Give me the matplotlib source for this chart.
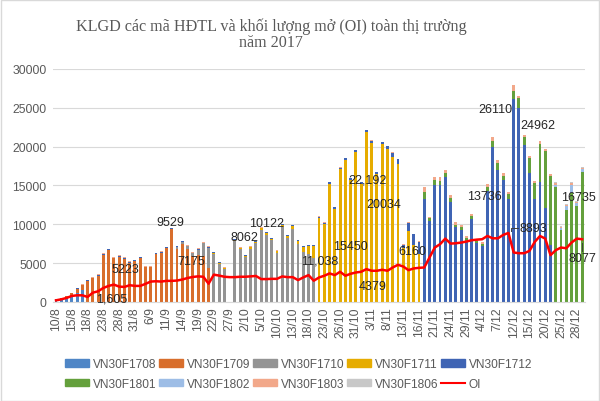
import matplotlib
matplotlib.use('Agg')
import matplotlib.pyplot as plt
import numpy as np
from matplotlib.patches import Rectangle, Patch
from matplotlib.lines import Line2D

# Ngày giao dịch (10/8 - 29/12/2017)
dates = ("10/8 11/8 14/8 15/8 16/8 17/8 18/8 21/8 22/8 23/8 24/8 25/8 28/8 29/8 30/8 31/8 "
         "1/9 5/9 6/9 7/9 8/9 11/9 12/9 13/9 14/9 15/9 18/9 19/9 20/9 21/9 22/9 25/9 26/9 27/9 28/9 29/9 "
         "2/10 3/10 4/10 5/10 6/10 9/10 10/10 11/10 12/10 13/10 16/10 17/10 18/10 19/10 20/10 "
         "23/10 24/10 25/10 26/10 27/10 30/10 31/10 "
         "1/11 2/11 3/11 6/11 7/11 8/11 9/11 10/11 13/11 14/11 15/11 16/11 17/11 20/11 21/11 "
         "22/11 23/11 24/11 27/11 28/11 29/11 30/11 "
         "1/12 4/12 5/12 6/12 7/12 8/12 11/12 12/12 13/12 14/12 15/12 18/12 19/12 20/12 21/12 "
         "22/12 25/12 26/12 27/12 28/12 29/12").split()

f1708 = [330, 370, 540, 860, 1150, 1605] + [0] * 95

f1709 = ([90, 120, 200, 290, 580, 580,
          2740, 3050, 3360, 6100, 6670, 5600, 5850, 5580, 5050, 5300,
          5620, 4460, 4460, 6170, 6330, 6900, 9440, 6850, 7480, 6850,
          5900, 6100, 5900, 4400] + [0] * 71)

f1710 = ([0] * 23 +
         [200, 250, 300, 370, 650, 1650, 2600] +
         [6150, 4950, 4220, 0, 7800, 6780, 5850, 6880, 7550, 9250,
          8650, 7950, 6300, 9650, 8250, 9450, 7450, 6500, 6200, 5650] + [0] * 51)

f1711 = ([0] * 30 +
         [150, 120, 100, 0, 150, 150, 130, 150, 200, 220,
          220, 220, 230, 280, 280, 380, 430, 600, 1050, 1600] +
         [10850, 10080, 15250, 12000, 17080, 18270, 15730, 19330, 15230, 21900,
          20500, 16500, 20300, 19650, 18700, 17800, 6900, 9100, 7350, 6160] + [0] * 31)

f1712 = ([10, 10, 20, 30, 50, 60,
          60, 80, 150, 130, 130, 120, 130, 120, 110, 110, 120, 90, 90, 120,
          130, 140, 100, 100, 100, 100, 100, 100, 100, 100,
          100, 90, 80, 0, 100, 80, 80, 80, 90, 90,
          90, 90, 80, 80, 80, 80, 80, 70, 70, 70,
          150, 150, 180, 180, 200, 210, 200, 220, 200, 220,
          230, 230, 280, 400, 500, 580, 500, 1100, 1350, 1600,
          13200, 10400, 15000, 15000, 16100, 12900, 9600, 9250, 7900, 10700,
          7550, 7250, 14300, 19900, 17050, 15700, 13300, 26110, 24962, 20200,
          16600, 13200, 15500, 12100, 7400] + [0] * 6)

f1801 = ([0] * 70 +
         [900, 350, 650, 600, 550, 550, 350, 350, 350, 350,
          250, 250, 450, 850, 800, 550, 550, 1050, 1300, 1050,
          1900, 2150, 4850, 7300, 8800,
          14800, 9250, 11800, 14000, 12300, 16735])

f1802 = [0] * 95 + [250, 300, 500, 1000, 450, 400]

f1803 = ([0, 0, 0, 0, 0, 35,
          30, 50, 60, 70, 70, 60, 60, 60, 60, 60, 60, 50, 50, 60,
          60, 60, 40, 50, 50, 50, 50, 50, 50, 50,
          50, 50, 50, 0, 50, 40, 40, 40, 40, 40,
          40, 40, 40, 40, 40, 40, 40, 30, 30, 30,
          70, 70, 70, 70, 70, 70, 70, 70, 70, 70,
          70, 70, 70, 80, 70, 70, 100, 100, 100, 90,
          700, 200, 500, 450, 400, 290, 300, 250, 200, 250,
          200, 200, 380, 450, 450, 350, 300, 740, 240, 290,
          300, 250, 350, 300, 250,
          250, 150, 200, 300, 150, 170])

f1806 = [0] * 95 + [100, 100, 100, 100, 100, 95]

oi = [215, 345, 520, 780, 860, 860, 650, 1200, 1380, 1810,
      2070, 2240, 1980, 1940, 2160, 2070, 2070, 2330, 2630, 2670,
      2630, 2720, 2720, 2760, 2890, 3090, 3220, 3300, 3250, 2350,
      3520, 3400, 3250, 3200, 3200, 3250, 3250, 3300, 3350, 2950,
      2950, 2980, 2980, 3290, 3200, 3200, 2820, 3160, 3460, 2740,
      3160, 3380, 3680, 3460, 3890, 3380, 3630, 3800, 3890, 4230,
      4020, 4020, 4150, 4020, 4440, 4790, 4570, 4100, 4320, 4400,
      4440, 5730, 7010, 7440, 8160, 7520, 7560, 7650, 7780, 7950,
      8030, 8080, 8500, 8200, 8200, 8630, 8893, 6370, 6280, 6280,
      6580, 7730, 8500, 8160, 6030, 6670, 7010, 6920, 7650, 8160, 8077]

series = ['VN30F1708', 'VN30F1709', 'VN30F1710', 'VN30F1711', 'VN30F1712',
          'VN30F1801', 'VN30F1802', 'VN30F1803', 'VN30F1806']
values = [f1708, f1709, f1710, f1711, f1712, f1801, f1802, f1803, f1806]
colors = ['#4F86C6', '#D86E2C', '#949494', '#E6AC00', '#3F64B4',
          '#64A03C', '#9DBDE6', '#F2A88A', '#C8C8C8']

# Nhãn số liệu (đặt tay như trong Excel)
labels = [('9529', 21.7, 10320), ('5223', 13.1, 4230), ('1,605', 10.6, 450),
          ('7175', 25.7, 5300), ('8062', 35.8, 8330), ('10122', 40.1, 10190),
          ('11,038', 50.1, 5300), ('15450', 56.0, 7220), ('22,192', 59.3, 15770),
          ('20034', 62.3, 12560), ('4379', 60.1, 2090), ('6160', 67.8, 6540),
          ('13736', 81.4, 13630), ('26110', 83.6, 24870), ('24962', 91.5, 22820),
          ('8893', 90.7, 9490), ('16735', 99.4, 13460), ('8077', 100.1, 5640)]

fig = plt.figure(figsize=(6, 4.02), dpi=100)
ax = fig.add_axes([0.089, 0.2463, 0.8855, 0.5796])

x = np.arange(len(dates))
bottom = np.zeros(len(dates))
for name, vals, c in zip(series, values, colors):
    ax.bar(x, vals, width=0.55, bottom=bottom, color=c, zorder=2)
    bottom += np.array(vals)

ax.plot(x, oi, color='#FF0000', lw=1.8, zorder=3)

for s, lx, ly in labels:
    ax.text(lx, ly, s, ha='center', va='center', fontsize=9,
            color='#262626', family='Liberation Sans', zorder=4)

# đường dẫn nhãn
ax.plot([86.4, 86.4, 87.8], [9100, 9550, 9550], color='#404040', lw=0.7, zorder=4)
ax.plot([100, 100], [7650, 6550], color='#404040', lw=0.7, zorder=4)

ax.set_xlim(-0.5, len(dates) - 0.5)
ax.set_ylim(0, 30000)
ax.set_yticks(range(0, 30001, 5000))
ax.set_xticks(x[::3])
ax.set_xticklabels(dates[::3], rotation=90)
ax.tick_params(axis='both', length=0, labelsize=8.8, labelcolor='#595959')
ax.tick_params(axis='y', pad=5)
ax.tick_params(axis='x', pad=3)
for lab in ax.get_xticklabels() + ax.get_yticklabels():
    lab.set_family('Liberation Sans')
ax.grid(axis='y', color='#d9d9d9', lw=0.8, zorder=0)
ax.set_axisbelow(True)
for sp in ['top', 'right', 'left']:
    ax.spines[sp].set_visible(False)
ax.spines['bottom'].set_color('#d9d9d9')

fig.text(0.452, 0.955, 'KLGD các mã HĐTL và khối lượng mở (OI) toàn thị trường\nnăm 2017',
         ha='center', va='top', fontsize=11.6, color='#595959',
         family='Liberation Serif', linespacing=1.05)

# chú thích: sắp xếp theo hàng
h = [Patch(color=c) for c in colors] + [Line2D([], [], color='#FF0000', lw=1.5)]
n = series + ['OI']
order = [0, 5, 1, 6, 2, 7, 3, 8, 4, 9]
fig.legend([h[i] for i in order], [n[i] for i in order], ncol=5, loc='upper left',
           bbox_to_anchor=(0.108, 0.106), frameon=False,
           handlelength=2.05, handleheight=0.6, handletextpad=0.3,
           columnspacing=0.2, labelspacing=0.6, borderpad=0, borderaxespad=0,
           prop={'family': 'Liberation Sans', 'size': 8.6}, labelcolor='#595959')

fig.patches.append(Rectangle((0.001, 0.001), 0.997, 0.997, transform=fig.transFigure,
                             fill=False, edgecolor='#d9d9d9', lw=1))

fig.savefig('out.png', dpi=100)
